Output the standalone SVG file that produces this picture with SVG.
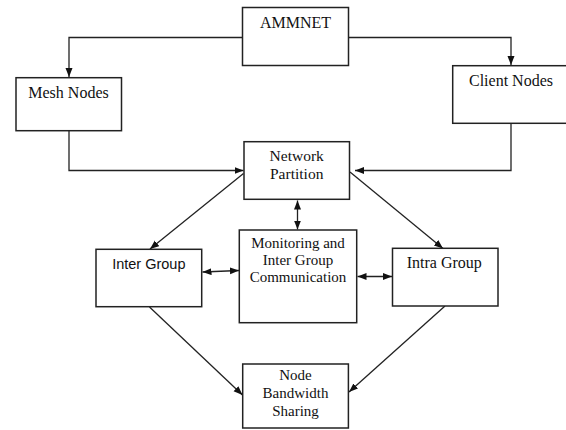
<svg xmlns="http://www.w3.org/2000/svg" width="566" height="430" viewBox="0 0 566 430">
<defs>
<style>
.box{fill:#fff;stroke:#222;stroke-width:1.5}
.serif{font-family:"Liberation Serif","Times New Roman",serif;fill:#111;text-anchor:middle}
.sans{font-family:"Liberation Sans",Arial,sans-serif;fill:#111;text-anchor:middle}
.c{fill:none;stroke:#222;stroke-width:1.3}
</style>
<marker id="ah" markerUnits="userSpaceOnUse" markerWidth="10" markerHeight="8" refX="9" refY="3.5" orient="auto-start-reverse">
<path d="M0,0 L9,3.5 L0,7 z" fill="#111"/>
</marker>
</defs>
<rect width="566" height="430" fill="#fff"/>
<g id="connectors">
<path class="c" d="M242.5,37.5 H69 V77" marker-end="url(#ah)"/>
<path class="c" d="M348.5,37.5 H511 V65" marker-end="url(#ah)"/>
<path class="c" d="M69,131 V170.5 H243.5" marker-end="url(#ah)"/>
<path class="c" d="M511,123 V170.5 H355" marker-end="url(#ah)"/>
<path class="c" d="M243.5,173.5 L150,249" marker-end="url(#ah)"/>
<path class="c" d="M350,172 L443,248.5" marker-end="url(#ah)"/>
<path class="c" d="M297.5,200.5 V229.5" marker-start="url(#ah)" marker-end="url(#ah)"/>
<path class="c" d="M202.5,272 L239,270.5" marker-start="url(#ah)" marker-end="url(#ah)"/>
<path class="c" d="M357.5,276.5 H392" marker-start="url(#ah)" marker-end="url(#ah)"/>
<path class="c" d="M149.5,307 L242.5,395" marker-end="url(#ah)"/>
<path class="c" d="M445,306 L349,392" marker-end="url(#ah)"/>
</g>
<g id="ammnet">
<rect class="box" x="242.5" y="7.5" width="106" height="58"/>
<text class="serif" x="295.5" y="28.3" font-size="16">AMMNET</text>
</g>
<g id="mesh-nodes">
<rect class="box" x="16" y="77.7" width="105.5" height="53"/>
<text class="serif" x="68.5" y="98" font-size="16">Mesh Nodes</text>
</g>
<g id="client-nodes">
<rect class="box" x="452.7" y="65.7" width="120" height="57.6"/>
<text class="serif" x="511" y="85.5" font-size="16">Client Nodes</text>
</g>
<g id="network-partition">
<rect class="box" x="244" y="141.7" width="105.5" height="57.6"/>
<text class="serif" x="296.7" y="160.7" font-size="15.5">Network</text>
<text class="serif" x="296.7" y="178.5" font-size="15.5">Partition</text>
</g>
<g id="inter-group">
<rect class="box" x="96" y="249.3" width="105.7" height="57.4"/>
<text class="sans" x="148.8" y="268.7" font-size="14.5">Inter Group</text>
</g>
<g id="monitoring">
<rect class="box" x="239.3" y="230" width="117.4" height="92.7"/>
<text class="serif" x="298" y="247.5" font-size="15">Monitoring and</text>
<text class="serif" x="298" y="264.5" font-size="15">Inter Group</text>
<text class="serif" x="298" y="282" font-size="15">Communication</text>
</g>
<g id="intra-group">
<rect class="box" x="392.5" y="248.3" width="105.5" height="57.7"/>
<text class="serif" x="444.3" y="268.3" font-size="16">Intra Group</text>
</g>
<g id="node-bandwidth">
<rect class="box" x="242.7" y="364" width="105.7" height="64"/>
<text class="serif" x="295.5" y="380.3" font-size="15">Node</text>
<text class="serif" x="295.5" y="398.3" font-size="15">Bandwidth</text>
<text class="serif" x="295.5" y="415.5" font-size="15">Sharing</text>
</g>
</svg>
